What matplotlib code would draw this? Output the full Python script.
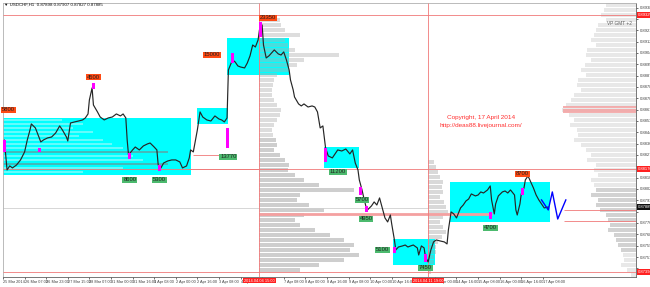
import numpy as np
import matplotlib.pyplot as plt

plt.rcParams['font.family'] = ['Liberation Sans', 'DejaVu Sans']

# USDCHF H1, bar index (hours from left edge) and close price
bars = [0, 1, 3, 5, 7, 10, 13, 16, 18, 20, 21, 24, 26, 28, 30, 33, 36, 39, 42, 44,
        47, 48, 50, 53, 56, 59, 61, 63, 64, 66, 67, 70, 72, 75, 78, 81, 84, 87, 89, 91,
        92, 93, 96, 98, 101, 104, 107, 109, 112, 114, 115, 117, 119, 122, 125, 128, 131, 133, 136, 138,
        139, 141, 144, 146, 148, 151, 154, 157, 160, 162, 164, 166, 167, 170, 172, 174, 176, 179, 181, 183,
        185, 187, 189, 190, 192, 193, 195, 197, 199, 201, 204, 206, 208, 210, 212, 213, 215, 216, 219, 221,
        223, 226, 229, 231, 233, 235, 237, 239, 241, 244, 246, 248, 251, 254, 257, 259, 261, 263, 264, 266,
        267, 269, 270, 273, 275, 277, 279, 281, 283, 285, 287, 288, 290, 291, 293, 296, 298, 300, 302, 304,
        307, 308, 310, 312, 313, 315, 317, 319, 321, 324, 327, 329, 330, 332, 334, 336, 339, 341, 343, 345,
        347, 350, 352, 354, 356, 359, 361, 362, 364, 365, 367, 370, 372, 374, 376, 379, 380, 381, 383, 384,
        386, 387, 389, 391, 393, 395, 397, 399, 401, 404]
closes = [0.88313, 0.88388, 0.88163, 0.88193, 0.88178, 0.88200, 0.88238, 0.88298, 0.88388, 0.88463,
          0.88508, 0.88478, 0.88425, 0.88373, 0.88388, 0.88403, 0.88410, 0.88440, 0.88493, 0.88463,
          0.88410, 0.88380, 0.88515, 0.88523, 0.88530, 0.88538, 0.88553, 0.88583, 0.88688, 0.88778,
          0.88650, 0.88598, 0.88560, 0.88538, 0.88553, 0.88560, 0.88583, 0.88568, 0.88583, 0.88553,
          0.88388, 0.88275, 0.88313, 0.88335, 0.88313, 0.88343, 0.88358, 0.88365, 0.88335, 0.88313,
          0.88200, 0.88178, 0.88215, 0.88230, 0.88238, 0.88238, 0.88223, 0.88178, 0.88193, 0.88253,
          0.88313, 0.88298, 0.88463, 0.88598, 0.88560, 0.88538, 0.88530, 0.88568, 0.88545, 0.88538,
          0.88523, 0.88553, 0.88913, 0.88988, 0.88973, 0.88943, 0.88935, 0.88928, 0.88965, 0.89018,
          0.89100, 0.89085, 0.89138, 0.89213, 0.89250, 0.89100, 0.89003, 0.89018, 0.89040, 0.89063,
          0.89033, 0.89025, 0.89048, 0.88988, 0.88913, 0.88838, 0.88763, 0.88710, 0.88658, 0.88643,
          0.88658, 0.88635, 0.88643, 0.88635, 0.88598, 0.88478, 0.88493, 0.88328, 0.88268, 0.88253,
          0.88283, 0.88313, 0.88305, 0.88320, 0.88283, 0.88313, 0.88215, 0.88163, 0.88088, 0.88013,
          0.87968, 0.87885, 0.87863, 0.87893, 0.87923, 0.87900, 0.87953, 0.87878, 0.87803, 0.87773,
          0.87825, 0.87758, 0.87638, 0.87563, 0.87585, 0.87593, 0.87600, 0.87585, 0.87593, 0.87600,
          0.87578, 0.87525, 0.87593, 0.87578, 0.87510, 0.87473, 0.87563, 0.87623, 0.87638, 0.87630,
          0.87623, 0.87608, 0.87713, 0.87848, 0.87833, 0.87803, 0.87878, 0.87900, 0.87930, 0.87945,
          0.87983, 0.87968, 0.87975, 0.87998, 0.87990, 0.88013, 0.88043, 0.87938, 0.87833, 0.87908,
          0.87968, 0.87998, 0.88005, 0.87990, 0.88013, 0.87975, 0.87863, 0.87825, 0.87908, 0.87983,
          0.88028, 0.88088, 0.88118, 0.88073, 0.88028, 0.87975, 0.87938, 0.87908, 0.87878, 0.87885]

# projected path
proj_bars = [399, 404, 407, 411, 417]
proj_prices = [0.87938, 0.87863, 0.87998, 0.87795, 0.87938]

# cyan zones: start bar, end bar, low, high
zone_start = [0, 144, 166, 238, 289, 331]
zone_end = [139, 167, 212, 264, 320, 405]
zone_low = [0.88125, 0.88508, 0.88875, 0.88178, 0.87450, 0.87773]
zone_high = [0.88553, 0.88628, 0.89153, 0.88335, 0.87645, 0.88073]

# highlighted candles: bar, low, high
mark_bars = [1, 27, 67, 94, 116, 166, 170, 191, 239, 265, 269, 290, 313, 361, 385]
mark_low = [0.88298, 0.88298, 0.88770, 0.88245, 0.88155, 0.88328, 0.88965, 0.89160, 0.88223,
            0.87975, 0.87848, 0.87540, 0.87473, 0.87795, 0.87975]
mark_high = [0.88388, 0.88328, 0.88815, 0.88290, 0.88200, 0.88478, 0.89040, 0.89273, 0.88328,
             0.88035, 0.87893, 0.87585, 0.87533, 0.87848, 0.88028]

# volume tags
top_text = ['5800', '4500', '15000', '23350', '8700']
top_bar = [4, 67, 155, 196, 385]
top_price = [0.88613, 0.88860, 0.89025, 0.89303, 0.88133]
bot_text = ['8600', '5300', '13770', '11200', '5700', '4950', '5100', '7450', '4700']
bot_bar = [94, 116, 167, 248, 266, 269, 281, 313, 361]
bot_price = [0.88088, 0.88088, 0.88260, 0.88148, 0.87938, 0.87795, 0.87563, 0.87428, 0.87728]

# volume profiles (width in bars), levels top -> bottom
vp_mid_top, vp_mid_step = 0.89288, 0.000375
vp_mid = [15, 16, 19, 30, 19, 21, 26, 59, 33, 28, 22, 13, 11, 10, 9, 9, 11, 13, 16, 15,
          13, 11, 9, 10, 12, 13, 11, 15, 19, 22, 21, 26, 33, 44, 70, 30, 28, 37, 48, 33,
          26, 30, 41, 52, 63, 70, 67, 74, 63, 44, 30]
vp_right_top, vp_right_step = 0.89400, 0.000375
vp_right = [22, 24, 26, 22, 28, 30, 31, 33, 30, 36, 37, 33, 38, 41, 37, 43, 44, 41, 46, 48,
            52, 55, 50, 46, 49, 44, 43, 46, 41, 37, 33, 36, 30, 31, 28, 33, 31, 30, 33, 28,
            30, 27, 22, 21, 19, 21, 16, 15, 13, 11, 10, 9, 11, 7, 4]
vp_low_top, vp_low_step = 0.88225, 0.000375
vp_low = [4, 6, 7, 9, 11, 10, 11, 9, 12, 13, 15, 11, 9, 11, 13, 10, 7, 6, 6, 4, 4, 3, 2]
vp_box_top, vp_box_step = 0.88538, 0.0003
vp_box = [44, 59, 52, 67, 56, 74, 81, 89, 122, 96, 104, 122, 89, 59]

time_labels = ['25 Mar 2014', '26 Mar 07:00', '26 Mar 23:00', '27 Mar 15:00', '28 Mar 07:00',
               '31 Mar 00:00', '31 Mar 16:00', '1 Apr 08:00', '2 Apr 00:00', '2 Apr 16:00',
               '3 Apr 08:00', '4 Apr 00:00', '', '7 Apr 08:00', '8 Apr 00:00',
               '8 Apr 16:00', '9 Apr 08:00', '10 Apr 00:00', '10 Apr 16:00', '',
               '14 Apr 00:00', '14 Apr 16:00', '15 Apr 08:00', '16 Apr 00:00', '16 Apr 16:00',
               '17 Apr 08:00']

red_levels = [0.89325, 0.88170, 0.87398]
last_price = 0.87885

fig = plt.figure(figsize=(6.5, 2.87), dpi=100)
ax = fig.add_axes([3 / 650, 10 / 287, 633 / 650, 274 / 287])
xmax = 469
ax.set_xlim(0, xmax)
ax.set_ylim(0.87360, 0.89415)

# zones
ax.bar(zone_start, np.array(zone_high) - np.array(zone_low), width=np.array(zone_end) - np.array(zone_start),
       bottom=zone_low, align='edge', color='#00ffff', zorder=1)

# profiles
lv = vp_mid_top - vp_mid_step * np.arange(len(vp_mid))
ax.barh(lv, vp_mid, height=vp_mid_step * 0.8, left=190,
        color=np.where(lv < 0.88400, '#8c8c8c', '#b0b0b0'), alpha=0.42, zorder=2, lw=0)
lv = vp_right_top - vp_right_step * np.arange(len(vp_right))
ax.barh(lv, vp_right, height=vp_right_step * 0.8, left=xmax - np.array(vp_right),
        color=np.where((lv < 0.88050) & (lv > 0.87550), '#b4b4b4', '#dadada'), alpha=0.6, zorder=2, lw=0)
lv = vp_low_top - vp_low_step * np.arange(len(vp_low))
ax.barh(lv, vp_low, height=vp_low_step * 0.8, left=315, color='#a0a0a0', alpha=0.4, zorder=2, lw=0)
lv = vp_box_top - vp_box_step * np.arange(len(vp_box))
ax.barh(lv, vp_box, height=vp_box_step * 0.45, left=0,
        color=['#808080' if w > 120 else '#b8f8f8' for w in vp_box], alpha=0.55, zorder=2, lw=0)

# level lines
ax.hlines(red_levels, 0, xmax, color='#f07878', lw=0.6, zorder=3)
ax.hlines(0.88170, 137, 190, color='#f07878', lw=0.6, zorder=3)
ax.hlines(0.88275, 141, 167, color='#f07878', lw=0.6, zorder=3)
ax.hlines([0.87863, 0.87780], 416, xmax, color='#f07878', lw=0.6, zorder=3)
ax.hlines(0.87878, 0, 315, color='#d0d0d0', lw=0.6, zorder=2)
ax.hlines(0.87833, 190, 362, color='#f4a0a0', lw=2.0, zorder=2)
ax.hlines([0.88635, 0.88616, 0.88598], 415, xmax, color='#f4a0a0', lw=1.2, zorder=2)
ax.vlines([190, 315], 0.87360, 0.89415, color='#f07878', lw=0.6, zorder=3)

# price
ax.plot(bars, closes, color='#262626', lw=0.85, zorder=4)
ax.bar(mark_bars, np.array(mark_high) - np.array(mark_low), width=2.2, bottom=mark_low,
       color='#ff00ff', zorder=5)
ax.plot(proj_bars, proj_prices, color='#0000ff', lw=1.0, zorder=5)

for s, b, p in zip(top_text, top_bar, top_price):
    ax.text(b, p, s, fontsize=4.2, ha='center', va='center', color='#202020', zorder=6,
            bbox=dict(boxstyle='square,pad=0.15', fc='#ff4a14', ec='none'))
for s, b, p in zip(bot_text, bot_bar, bot_price):
    ax.text(b, p, s, fontsize=4.2, ha='center', va='center', color='#202020', zorder=6,
            bbox=dict(boxstyle='square,pad=0.15', fc='#4cba6e', ec='none'))

ax.text(354, 0.88560, 'Copyright, 17 April 2014', fontsize=4.6, color='#ff3030', ha='center', va='center')
ax.text(354, 0.88500, 'http://deas88.livejournal.com/', fontsize=4.6, color='#ff3030', ha='center', va='center')
ax.text(466, 0.89258, 'VP GMT +2', fontsize=3.4, color='#606060', ha='right', va='center')
fig.text(0.006, 0.983, '\u25bc USDCHF,H1  0.87898 0.87907 0.87827 0.87885', fontsize=3.2,
         color='#101010', va='center')

# axes
ax.yaxis.tick_right()
yt = [0.89380 - 0.00085 * i for i in range(24)]
ax.set_yticks(yt)
flagged = red_levels + [last_price]
ax.set_yticklabels(['' if min(abs(v - f) for f in flagged) < 0.0004 else f'{v:.5f}' for v in yt],
                   fontsize=3.0, color='#404040')
ax.set_xticks([16 * i for i in range(len(time_labels))])
ax.set_xticklabels(time_labels, fontsize=2.8, color='#404040', ha='left')
ax.tick_params(length=1.5, width=0.4, pad=1)
for side in ['left', 'top']:
    ax.spines[side].set_color('#b0b0b0')
for side in ['right', 'bottom']:
    ax.spines[side].set_color('#606060')
for sp in ax.spines.values():
    sp.set_linewidth(0.6)

for p in red_levels:
    ax.annotate(f'{p:.5f}', xy=(1.0, p), xycoords=('axes fraction', 'data'), xytext=(1, 0),
                textcoords='offset points', ha='left', va='center', fontsize=3.0, color='white',
                bbox=dict(boxstyle='square,pad=0.2', fc='#ff2020', ec='none'), annotation_clip=False, zorder=7)
ax.annotate(f'{last_price:.5f}', xy=(1.0, last_price), xycoords=('axes fraction', 'data'), xytext=(1, 0),
            textcoords='offset points', ha='left', va='center', fontsize=3.0, color='white',
            bbox=dict(boxstyle='square,pad=0.2', fc='#101010', ec='none'), annotation_clip=False, zorder=7)
for b, s in zip([190, 315], ['2014.04.04 15:00', '2014.04.11 19:00']):
    ax.annotate(s, xy=(b, 0), xycoords=('data', 'axes fraction'), xytext=(0, -1.2),
                textcoords='offset points', ha='center', va='top', fontsize=2.8, color='white',
                bbox=dict(boxstyle='square,pad=0.2', fc='#ff2020', ec='none'), annotation_clip=False, zorder=7)

fig.savefig('out.png', dpi=100, facecolor='white')
